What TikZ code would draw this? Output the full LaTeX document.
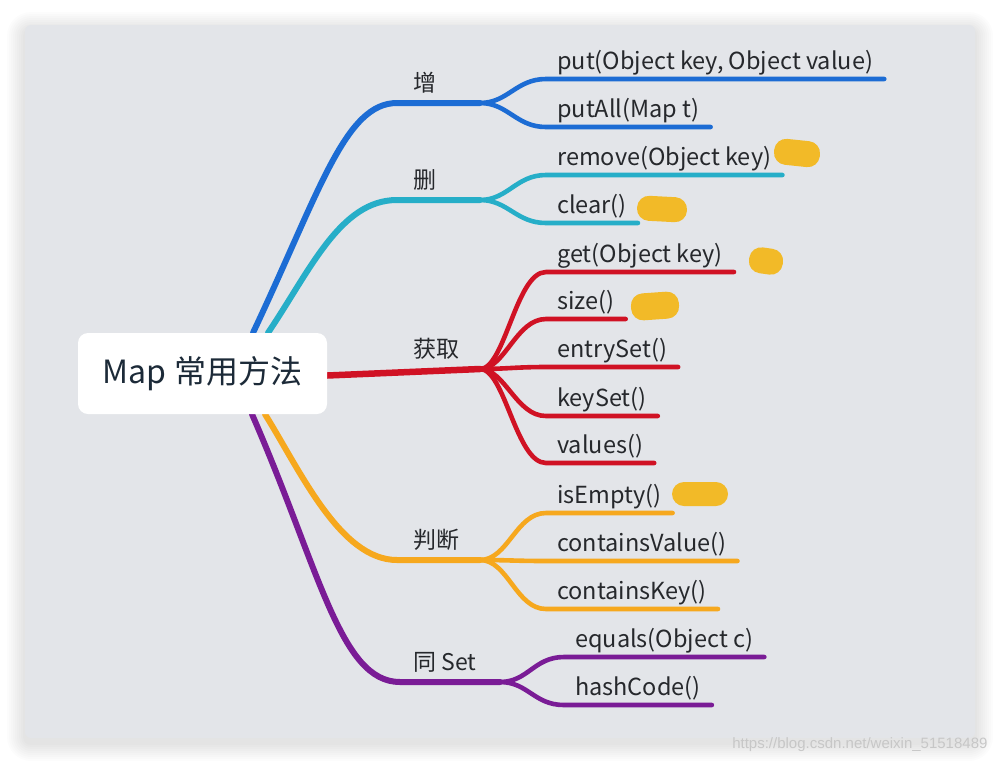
\documentclass[tikz,border=0pt]{standalone}
\usepackage{fontspec}
\setmainfont{Noto Sans CJK SC}
\newfontfamily\wmfont{Liberation Sans}
\usetikzlibrary{positioning}
\definecolor{cKarte}{RGB}{227,229,233}
\definecolor{cZeng}{RGB}{28,108,212}
\definecolor{cShan}{RGB}{38,174,200}
\definecolor{cHuo}{RGB}{208,18,36}
\definecolor{cPan}{RGB}{246,168,30}
\definecolor{cTong}{RGB}{122,28,150}
\definecolor{cKlecks}{RGB}{242,186,40}
\definecolor{cText}{RGB}{38,40,44}
\definecolor{cWurzel}{RGB}{28,42,56}
\pgfdeclarelayer{hinten}
\pgfdeclarelayer{linien}
\pgfsetlayers{hinten,linien,main}

\begin{document}
\begin{tikzpicture}[
  x=1pt, y=-1pt,
  ast/.style={line width=6pt, line cap=round},
  zweig/.style={line width=4.6pt, line cap=round},
  wurzel/.style={fill=white, rounded corners=10pt, minimum width=249pt,
                 minimum height=81pt, inner sep=0pt, text=cWurzel,
                 font=\fontsize{32}{37}\selectfont},
  titel/.style={anchor=south west, inner sep=0pt, text depth=11pt,
                text=cText, font=\fontsize{23}{27}\selectfont},
  blatt/.style={anchor=south west, inner xsep=11pt, inner ysep=0pt,
                text depth=9pt, text=cText, font=\fontsize{23.5}{27}\selectfont},
  klecks/.style={fill=cKlecks, rounded corners=12pt, inner sep=0pt}
]
\useasboundingbox (0,0) rectangle (1000,764);

% ---------- Karte mit Schatten -----------------------------------
\begin{pgfonlayer}{hinten}
  \fill[white] (0,0) rectangle (1000,764);
  \foreach \s in {2,4,...,18}
    \fill[black, opacity=0.012, rounded corners=6pt+\s pt]
      (25-\s,25-\s+5) rectangle (975+\s,738+\s+5);
  \fill[cKarte, rounded corners=6pt] (25,25) rectangle (975,738);
\end{pgfonlayer}

% ---------- Wurzel -----------------------------------------------
\node[wurzel] (map) at (202.5,373.5) {Map 常用方法};

% ---------- Hauptaeste -------------------------------------------
\node[titel] (zeng) at (413,103) {增};
\node[titel] (shan) at (413,200) {删};
\node[titel] (huo)  at (413,369) {获取};
\node[titel] (pan)  at (413,560) {判断};
\node[titel] (tong) at (413,682) {同 Set};

\coordinate (ze) at (480,103);
\coordinate (sh) at (480,200);
\coordinate (hq) at (480,369);
\coordinate (pd) at (480,560);
\coordinate (ts) at (500,682);

\begin{pgfonlayer}{linien}
\draw[ast, cZeng] ([xshift=50.5pt]map.north) .. controls +(67,-142) and +(-52,0)
  .. ([xshift=-16pt]zeng.south west) -- (ze);
\draw[ast, cShan] ([xshift=65.5pt]map.north) .. controls +(42,-62) and +(-57,0)
  .. ([xshift=-16pt]shan.south west) -- (sh);
\draw[ast, cHuo, line width=6.5pt] ([yshift=-2pt]map.east) -- (hq);
\draw[ast, cPan] ([xshift=62.5pt]map.south) .. controls +(35,56) and +(-57,0)
  .. ([xshift=-16pt]pan.south west) -- (pd);
\draw[ast, cTong] ([xshift=49.5pt]map.south) .. controls +(68,156) and +(-60,0)
  .. ([xshift=-13pt]tong.south west) -- (ts);
\end{pgfonlayer}

% ---------- Blaetter ---------------------------------------------
\node[blatt] (put)    at (546,79)  {put(Object key, Object value)};
\node[blatt] (putall) at (546,127) {putAll(Map t)};

\node[blatt] (remove) at (546,175) {remove(Object key)};
\node[blatt] (clear)  at (546,223) {clear()};

\node[blatt] (get)      at (546,272) {get(Object key)};
\node[blatt] (size)     at (546,319) {size()};
\node[blatt] (entryset) at (546,367) {entrySet()};
\node[blatt] (keyset)   at (546,416) {keySet()};
\node[blatt] (values)   at (546,463) {values()};

\node[blatt] (isempty)  at (546,513) {isEmpty()};
\node[blatt] (convalue) at (546,561) {containsValue()};
\node[blatt] (conkey)   at (546,609) {containsKey()};

\node[blatt] (equals)   at (564,657) {equals(Object c)};
\node[blatt] (hashcode) at (564,705) {hashCode()};

\begin{pgfonlayer}{linien}
\foreach \k in {put,putall}
  \draw[zweig, cZeng] (ze) .. controls +(28,0) and +(-30,0) .. (\k.south west) -- (\k.south east);
\foreach \k in {remove,clear}
  \draw[zweig, cShan] (sh) .. controls +(28,0) and +(-30,0) .. (\k.south west) -- (\k.south east);
\foreach \k in {get,size,entryset,keyset,values}
  \draw[zweig, cHuo] (hq) .. controls +(25,0) and +(-30,0) .. (\k.south west) -- (\k.south east);
\foreach \k in {isempty,convalue,conkey}
  \draw[zweig, cPan] (pd) .. controls +(28,0) and +(-30,0) .. (\k.south west) -- (\k.south east);
\foreach \k in {equals,hashcode}
  \draw[zweig, cTong] (ts) .. controls +(28,0) and +(-30,0) .. (\k.south west) -- (\k.south east);
\end{pgfonlayer}

% ---------- gelbe Markierungen -----------------------------------
\node[klecks, minimum width=46pt, minimum height=26pt, rotate=-6] (m-remove)  at (797,153) {};
\node[klecks, minimum width=50pt, minimum height=25pt, rotate=-3] (m-clear)   at (662,209) {};
\node[klecks, minimum width=34pt, minimum height=26pt, rotate=-8] (m-get)     at (766,261) {};
\node[klecks, minimum width=48pt, minimum height=27pt, rotate=4]  (m-size)    at (655,306) {};
\node[klecks, minimum width=56pt, minimum height=24pt]            (m-isempty) at (700,494) {};

% ---------- Wasserzeichen ----------------------------------------
\node[anchor=east, text=black!22, font=\wmfont\fontsize{15}{18}\selectfont]
  (wm) at (991,745) {https://blog.csdn.net/weixin\_51518489};

\end{tikzpicture}
\end{document}
